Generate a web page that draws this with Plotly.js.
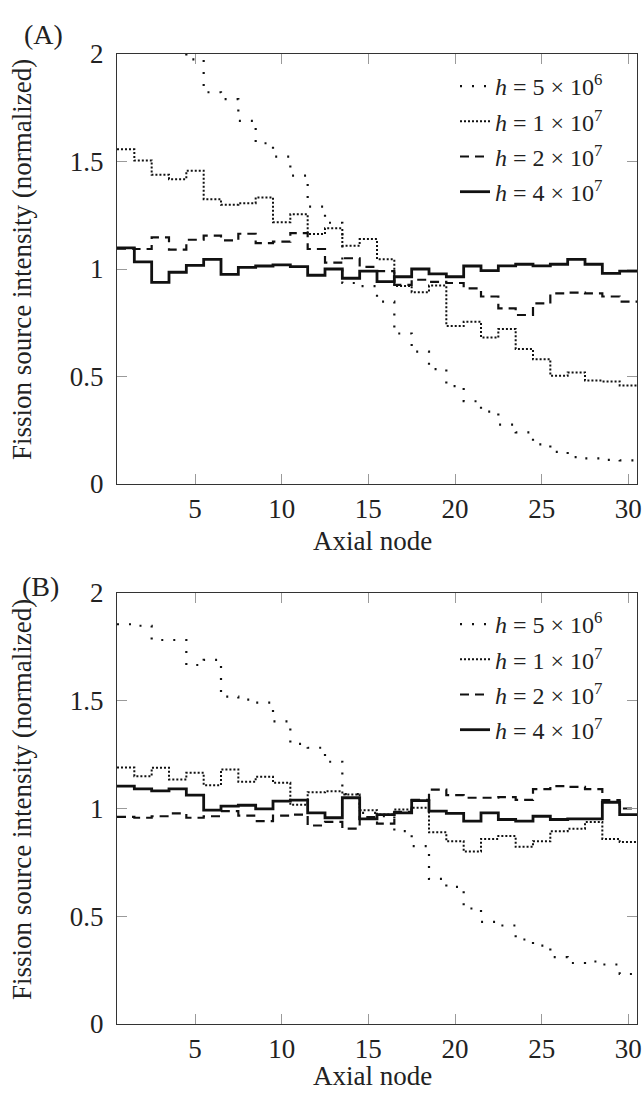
<!DOCTYPE html>
<html>
<head>
<meta charset="utf-8">
<script src="https://cdn.plot.ly/plotly-3.0.1.min.js"></script>
<style>html,body{margin:0;padding:0;background:#fff}#chart{width:644px;height:1095px}</style>
</head>
<body>
<div id="chart"></div>
<script>
// Axial nodes
const nodes = [1,2,3,4,5,6,7,8,9,10,11,12,13,14,15,16,17,18,19,20,21,22,23,24,25,26,27,28,29,30];
const seriesNames = ["<i>h</i> = 5 × 10<sup>6</sup>", "<i>h</i> = 1 × 10<sup>7</sup>", "<i>h</i> = 2 × 10<sup>7</sup>", "<i>h</i> = 4 × 10<sup>7</sup>"];
const xTicks = [5,10,15,20,25,30];
const yTicks = [0,0.5,1,1.5,2];
const yTickText = ["0","0.5","1","1.5","2"];

// Panel (A)
const A_h5e6 = [2.35,2.30,2.20,2.10,1.975,1.822,1.79,1.689,1.585,1.523,1.434,1.29,1.215,0.935,0.92,0.848,0.70,0.616,0.534,0.455,0.385,0.337,0.276,0.24,0.184,0.149,0.125,0.119,0.112,0.11];
const A_h1e7 = [1.557,1.505,1.438,1.418,1.457,1.325,1.299,1.306,1.333,1.218,1.255,1.163,1.19,1.108,1.139,1.045,0.921,0.892,0.923,0.735,0.755,0.681,0.721,0.628,0.58,0.503,0.519,0.481,0.477,0.458];
const A_h2e7 = [1.095,1.093,1.147,1.09,1.136,1.155,1.133,1.164,1.12,1.127,1.167,1.093,1.03,1.05,1.01,0.99,0.926,0.95,0.94,0.935,0.91,0.872,0.817,0.786,0.84,0.887,0.89,0.887,0.872,0.848];
const A_h4e7 = [1.098,1.033,0.938,0.985,1.017,1.045,0.975,1.008,1.014,1.019,1.011,0.971,1.0,0.957,0.99,0.941,0.964,1.0,0.977,0.964,1.014,0.992,1.015,1.022,1.015,1.022,1.045,1.022,0.98,0.99];

// Panel (B)
const B_h5e6 = [1.855,1.848,1.782,1.782,1.666,1.69,1.519,1.505,1.491,1.404,1.3,1.282,1.217,1.067,0.98,0.965,0.895,0.825,0.673,0.636,0.536,0.474,0.457,0.392,0.364,0.31,0.283,0.29,0.276,0.232];
const B_h1e7 = [1.19,1.15,1.189,1.135,1.166,1.108,1.181,1.124,1.147,1.119,1.017,1.075,1.08,1.065,0.992,0.972,0.995,1.003,0.89,0.848,0.8,0.859,0.872,0.822,0.848,0.895,0.906,0.937,0.859,0.845];
const B_h2e7 = [0.961,0.957,0.964,0.977,0.957,0.964,0.988,0.967,0.941,0.967,0.972,0.921,0.938,0.907,0.96,0.93,0.985,1.04,1.088,1.062,1.05,1.05,1.053,1.04,1.09,1.104,1.1,1.09,1.039,1.0];
const B_h4e7 = [1.104,1.091,1.082,1.091,1.062,0.992,1.011,1.015,0.998,1.034,1.039,0.98,0.957,1.05,0.952,0.972,0.98,1.037,0.988,0.977,0.941,0.98,0.949,0.941,0.964,0.949,0.952,0.952,1.029,0.972];

const W = 644, H = 1095;
const styles = [
  {dash: "2px,10px", width: 2.2},
  {dash: "2px,2px", width: 2},
  {dash: "9px,6px", width: 2.2},
  {dash: "solid", width: 2.8}
];

// each node occupies [n-0.5, n+0.5]: step edges derived from node indices
function stepX(n) { const e = n.map(v => v - 0.5); e.push(n[n.length - 1] + 0.5); return e; }
function stepY(v) { const y = v.slice(); y.push(v[v.length - 1]); return y; }

const traces = [];
function addPanel(series, xa, ya, leg) {
  series.forEach((s, i) => {
    traces.push({
      x: stepX(nodes), y: stepY(s), xaxis: xa, yaxis: ya,
      type: "scatter", mode: "lines", name: seriesNames[i],
      line: {shape: "hv", color: "#111", dash: styles[i].dash, width: styles[i].width},
      legend: leg, legendgroup: leg + "g" + i, hoverinfo: "skip"
    });
  });
}
addPanel([A_h5e6, A_h1e7, A_h2e7, A_h4e7], "x", "y", "legend");
addPanel([B_h5e6, B_h1e7, B_h2e7, B_h4e7], "x2", "y2", "legend2");

const fam = "Liberation Serif, Times New Roman, serif";
const px = v => v / W, py = v => 1 - v / H;
const xdom = [px(117), px(637)];

function xAxis(anchor) {
  return {domain: xdom, anchor: anchor, range: [0.5, 30.5], tickvals: xTicks, ticks: "inside",
    ticklen: 10, tickcolor: "#9a9a9a", tickwidth: 1, showline: true, linecolor: "#333", linewidth: 1.2,
    mirror: "ticks", showgrid: false, zeroline: false, ticklabelstandoff: 0,
    tickfont: {family: fam, size: 27, color: "#222"}};
}
function yAxis(anchor, dom) {
  return {domain: dom, anchor: anchor, range: [0, 2], tickvals: yTicks, ticktext: yTickText, ticks: "inside",
    ticklen: 10, tickcolor: "#9a9a9a", tickwidth: 1, showline: true, linecolor: "#333", linewidth: 1.2,
    mirror: "ticks", showgrid: false, zeroline: false, ticklabelstandoff: 7,
    tickfont: {family: fam, size: 27, color: "#222"}};
}
function legendAt(topPx) {
  return {x: px(455), xanchor: "left", y: py(topPx), yanchor: "top", bgcolor: "rgba(0,0,0,0)",
    borderwidth: 0, font: {family: fam, size: 24, color: "#222"}, tracegroupgap: 1, traceorder: "grouped",
    itemwidth: 30};
}
const ann = (text, x, y, size, angle) => ({text: text, x: px(x), y: py(y), xref: "paper", yref: "paper",
  showarrow: false, xanchor: "center", yanchor: "middle", textangle: angle || 0,
  font: {family: fam, size: size, color: "#222"}});

const layout = {
  width: W, height: H, margin: {l: 0, r: 0, t: 0, b: 0}, paper_bgcolor: "#fff", plot_bgcolor: "#fff",
  showlegend: true,
  xaxis: xAxis("y"), yaxis: yAxis("x", [py(484), py(54)]),
  xaxis2: xAxis("y2"), yaxis2: yAxis("x2", [py(1024), py(593)]),
  legend: legendAt(64), legend2: legendAt(602),
  annotations: [
    ann("(A)", 43, 34, 28), ann("(B)", 40, 586, 28),
    ann("Axial node", 372, 541, 27), ann("Axial node", 372, 1076, 27),
    ann("Fission source intensity (normalized)", 22, 260, 27, -90),
    ann("Fission source intensity (normalized)", 22, 800, 27, -90)
  ]
};
Plotly.newPlot("chart", traces, layout, {staticPlot: true});
</script>
</body>
</html>
